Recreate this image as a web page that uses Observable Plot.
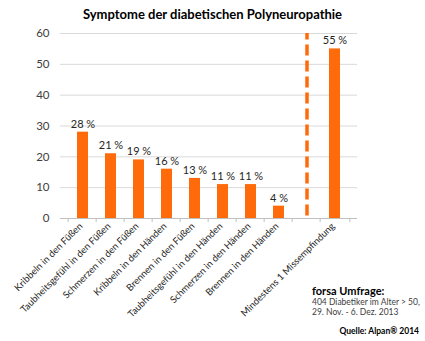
<!DOCTYPE html>
<html>
<head>
<meta charset="utf-8">
<script src="https://cdn.jsdelivr.net/npm/d3@7"></script>
<script src="https://cdn.jsdelivr.net/npm/@observablehq/plot@0.6"></script>
<style>
  body { margin: 0; background: #fff; }
  #wrap { position: relative; width: 425px; height: 341px; font-family: Lato, "Open Sans", sans-serif; }
  #title { position: absolute; left: 0; width: 425px; top: 6px; text-align: center; font-weight: bold; font-size: 13px; color: #000; }
  #note { position: absolute; left: 312px; top: 284px; color: #404040; font-size: 8.5px; line-height: 10px; }
  #note b { font-size: 11px; color: #000; display: block; line-height: 13px; }
  #source { position: absolute; right: 6px; top: 326px; font-weight: bold; font-size: 8.5px; color: #000; }
  #chart { position: absolute; left: 0; top: 0; }
</style>
</head>
<body>
<div id="wrap">
  <div id="chart"></div>
  <div id="title">Symptome der diabetischen Polyneuropathie</div>
  <div id="note"><b>forsa Umfrage:</b>404 Diabetiker im Alter &gt; 50,<br>29. Nov. - 6. Dez. 2013</div>
  <div id="source">Quelle: Alpan® 2014</div>
</div>
<script>
const categories = [
  "Kribbeln in den Füßen",
  "Taubheitsgefühl in den Füßen",
  "Schmerzen in den Füßen",
  "Kribbeln in den Händen",
  "Brennen in den Füßen",
  "Taubheitsgefühl in den Händen",
  "Schmerzen in den Händen",
  "Brennen in den Händen",
  " ",
  "Mindestens 1 Missempfindung"
];
const values = [28, 21, 19, 16, 13, 11, 11, 4, null, 55];
const dividerCategory = [" "];
const yTicks = [0, 10, 20, 30, 40, 50, 60];

const data = categories.map((c, i) => ({cat: c, v: values[i]})).filter(d => d.v != null);
const orange = "#ff6a0a";
const step = (425 - 60 - 68) / categories.length;

const chart = Plot.plot({
  width: 425,
  height: 341,
  marginLeft: 60,
  marginRight: 68,
  marginTop: 33,
  marginBottom: 123,
  style: {fontFamily: "Lato, 'Open Sans', sans-serif", fontSize: "10px", color: "#262626", background: "transparent"},
  x: {domain: categories, padding: 0.6, label: null},
  y: {domain: [0, 60], label: null},
  marks: [
    Plot.ruleY(yTicks, {stroke: "#d9d9d9", strokeWidth: 1}),
    Plot.ruleX([0], {frameAnchor: "left", stroke: "#bfbfbf"}),
    Plot.ruleY([0], {stroke: "#bfbfbf"}),
    Plot.axisY({ticks: yTicks, tickSize: 0, tickPadding: 11, fontSize: 11.5, color: "#404040", label: null}),
    Plot.axisX({tickSize: 4, stroke: "#bfbfbf", text: null, dx: -step / 2, label: null}),
    Plot.axisX([categories[categories.length - 1]], {tickSize: 4, stroke: "#bfbfbf", text: null, dx: step / 2, label: null}),
    Plot.axisX({tickSize: 0, tickPadding: 6, dx: -2, tickRotate: -45, fontSize: 9.5, fill: "#262626", label: null, tickFormat: d => d}),
    Plot.barY(data, {x: "cat", y: "v", fill: orange}),
    Plot.text(data, {x: "cat", y: "v", text: d => d.v + " %", dy: -8, fontSize: 11, fill: "#262626"}),
    Plot.ruleX(dividerCategory, {y1: 0.8, y2: 60, stroke: orange, strokeWidth: 3.5, strokeDasharray: "11,5"})
  ]
});
document.getElementById("chart").appendChild(chart);
</script>
</body>
</html>
